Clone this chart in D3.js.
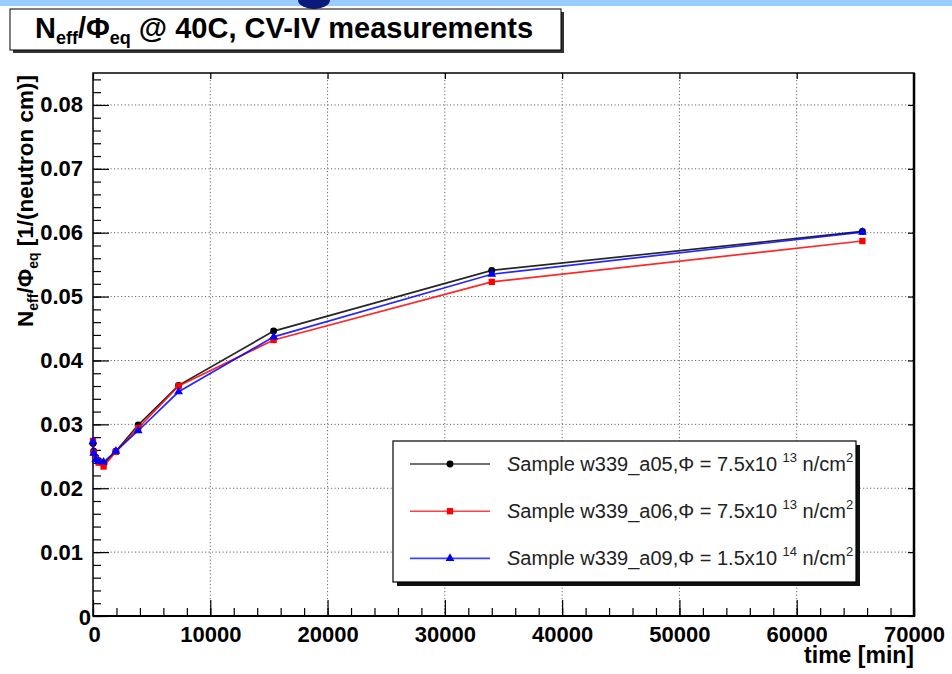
<!DOCTYPE html>
<html>
<head>
<meta charset="utf-8">
<script src="https://cdn.jsdelivr.net/npm/d3@7"></script>
<style>
  body { margin: 0; background: #fff; }
  svg { display: block; font-family: "Liberation Sans", Arial, sans-serif; }
</style>
</head>
<body>
<svg width="952" height="674"></svg>
<script>
// annealing time [min] and Neff/Phi_eq for the three samples
var times = [0, 60, 240, 480, 900, 1950, 3850, 7300, 15400, 34000, 65600];
var a05 = [0.0270, 0.0258, 0.0248, 0.0243, 0.0238, 0.0258, 0.0299, 0.0361, 0.0446, 0.0541, 0.0602];
var a06 = [0.0274, 0.0256, 0.0246, 0.0240, 0.0234, 0.0257, 0.0294, 0.0360, 0.0432, 0.0523, 0.0587];
var a09 = [0.0273, 0.0255, 0.0245, 0.0242, 0.0241, 0.0258, 0.0290, 0.0351, 0.0437, 0.0535, 0.0601];

var xTicks = [0, 10000, 20000, 30000, 40000, 50000, 60000, 70000];
var yTicks = [0, 0.01, 0.02, 0.03, 0.04, 0.05, 0.06, 0.07, 0.08];

var series = [
  {name: 'w339_a05', phi: '7.5', exp: '13', vals: a05, color: '#000', sym: d3.symbolCircle, size: 38},
  {name: 'w339_a06', phi: '7.5', exp: '13', vals: a06, color: '#ff0000', sym: d3.symbolSquare, size: 40},
  {name: 'w339_a09', phi: '1.5', exp: '14', vals: a09, color: '#0000ff', sym: d3.symbolTriangle, size: 34}
];

var svg = d3.select('svg');
var mL = 93, mR = 914, mT = 73, mB = 616;

var x = d3.scaleLinear().domain([0, 70000]).range([mL, mR]);
var y = d3.scaleLinear().domain([0, 0.085]).range([mB, mT]);

// slide remnant on top
svg.append('rect').attr('x', 0).attr('y', 0).attr('width', 952).attr('height', 6).attr('fill', '#99ccff');
svg.append('path').attr('d', 'M298,0 A16,9 0 0 0 330,0 Z').attr('fill', '#0a1a7a');

// title box
svg.append('rect').attr('x', 13).attr('y', 12).attr('width', 551).attr('height', 41).attr('fill', '#333');
svg.append('rect').attr('x', 10).attr('y', 9).attr('width', 551).attr('height', 41)
  .attr('fill', '#fff').attr('stroke', '#000').attr('stroke-width', 1);
var title = svg.append('text').attr('x', 284).attr('y', 38).attr('text-anchor', 'middle')
  .attr('font-size', 29).attr('font-weight', 'bold');
title.append('tspan').text('N');
title.append('tspan').attr('font-size', 18).attr('dy', 6).text('eff');
title.append('tspan').attr('dy', -6).text('/Φ');
title.append('tspan').attr('font-size', 18).attr('dy', 6).text('eq');
title.append('tspan').attr('dy', -6).text(' @ 40C, CV-IV measurements');

// grid
svg.append('g').selectAll('line').data(xTicks.slice(1, -1)).join('line')
  .attr('x1', d => x(d)).attr('x2', d => x(d)).attr('y1', mT).attr('y2', mB)
  .attr('stroke', '#666').attr('stroke-dasharray', '1.2,2.3');
svg.append('g').selectAll('line').data(yTicks.slice(1)).join('line')
  .attr('x1', mL).attr('x2', mR).attr('y1', d => y(d)).attr('y2', d => y(d))
  .attr('stroke', '#666').attr('stroke-dasharray', '1.2,2.3');

// axes, ticks pointing inward
var fmtY = d => d === 0 ? '0' : d3.format('.2f')(d);
var xAxis = svg.append('g').attr('transform', `translate(0,${mB})`)
  .call(d3.axisBottom(x).tickValues(xTicks).tickSizeInner(-16).tickSizeOuter(0).tickPadding(10).tickFormat(d3.format('d')));
svg.append('g').attr('transform', `translate(0,${mB})`)
  .call(d3.axisBottom(x).tickValues(d3.range(0, 70001, 2000)).tickSizeInner(-8).tickSizeOuter(0).tickFormat(''));
var yAxis = svg.append('g').attr('transform', `translate(${mL},0)`)
  .call(d3.axisLeft(y).tickValues(yTicks).tickSizeInner(-16).tickSizeOuter(0).tickPadding(10).tickFormat(fmtY));
svg.append('g').attr('transform', `translate(${mL},0)`)
  .call(d3.axisLeft(y).tickValues(d3.range(0, 0.0851, 0.002)).tickSizeInner(-8).tickSizeOuter(0).tickFormat(''));
// mirrored ticks on top and right
svg.append('g').attr('transform', `translate(0,${mT})`)
  .call(d3.axisTop(x).tickValues(xTicks).tickSizeInner(-6).tickSizeOuter(0).tickFormat(''));
svg.append('g').attr('transform', `translate(${mR},0)`)
  .call(d3.axisRight(y).tickValues(yTicks).tickSizeInner(-6).tickSizeOuter(0).tickFormat(''));

svg.selectAll('.domain').remove();
svg.selectAll('.tick line').attr('stroke', '#000').attr('stroke-width', 1.2);
svg.selectAll('.tick text').attr('font-size', 22).attr('font-weight', 'bold')
  .attr('font-family', '"Liberation Sans", Arial, sans-serif').attr('fill', '#000');
yAxis.selectAll('.tick text').filter(d => d === 0).attr('dy', '0.4em').attr('x', -2);
xAxis.selectAll('.tick text').filter(d => d === 0).attr('x', 1);

// frame
svg.append('rect').attr('x', mL).attr('y', mT).attr('width', mR - mL).attr('height', mB - mT)
  .attr('fill', 'none').attr('stroke', '#000').attr('stroke-width', 1.5);
svg.append('line').attr('x1', mR).attr('x2', mR).attr('y1', mT).attr('y2', mB + 1)
  .attr('stroke', '#000').attr('stroke-width', 2.5);
svg.append('line').attr('x1', mL).attr('x2', mR).attr('y1', mB).attr('y2', mB)
  .attr('stroke', '#000').attr('stroke-width', 2);

// axis titles
svg.append('text').attr('x', mR).attr('y', 663).attr('text-anchor', 'end')
  .attr('font-size', 23).attr('font-weight', 'bold').text('time [min]');
var yt = svg.append('text').attr('transform', 'translate(33,75) rotate(-90)').attr('text-anchor', 'end')
  .attr('font-size', 22.5).attr('font-weight', 'bold');
yt.append('tspan').text('N');
yt.append('tspan').attr('font-size', 14).attr('dy', 5).text('eff');
yt.append('tspan').attr('dy', -5).text('/Φ');
yt.append('tspan').attr('font-size', 14).attr('dy', 5).text('eq');
yt.append('tspan').attr('dy', -5).text(' [1/(neutron cm)]');

// data lines and markers
var line = d3.line().x(d => x(d[0])).y(d => y(d[1]));
series.forEach(s => {
  var pts = times.map((t, i) => [t, s.vals[i]]);
  svg.append('path').datum(pts).attr('d', line).attr('fill', 'none')
    .attr('stroke', s.color).attr('stroke-width', 1.7).attr('stroke-opacity', 0.85);
  svg.append('g').selectAll('path').data(pts).join('path')
    .attr('transform', d => `translate(${x(d[0])},${y(d[1])})`)
    .attr('d', d3.symbol(s.sym, s.size)).attr('fill', s.color);
});

// legend
var lg = svg.append('g');
lg.append('rect').attr('x', 397).attr('y', 445).attr('width', 463).attr('height', 141).attr('fill', '#111');
lg.append('rect').attr('x', 393).attr('y', 441).attr('width', 463).attr('height', 141)
  .attr('fill', '#fff').attr('stroke', '#000').attr('stroke-width', 1.2);
series.forEach((s, i) => {
  var cy = 464 + i * 47.2;
  lg.append('line').attr('x1', 410).attr('x2', 490).attr('y1', cy).attr('y2', cy)
    .attr('stroke', s.color).attr('stroke-width', 1.6).attr('stroke-opacity', 0.75);
  lg.append('path').attr('transform', `translate(450,${cy})`).attr('d', d3.symbol(s.sym, s.size)).attr('fill', s.color);
  var t = lg.append('text').attr('x', 507).attr('y', cy + 7).attr('font-size', 20).attr('fill', '#222');
  t.append('tspan').attr('font-style', 'italic').text('S');
  t.append('tspan').text('ample ' + s.name + ',Φ = ' + s.phi + 'x10 ');
  t.append('tspan').attr('font-size', 13).attr('dy', -9).text(s.exp);
  t.append('tspan').attr('dy', 9).text(' n/cm');
  t.append('tspan').attr('font-size', 13).attr('dy', -9).text('2');
});
</script>
</body>
</html>
